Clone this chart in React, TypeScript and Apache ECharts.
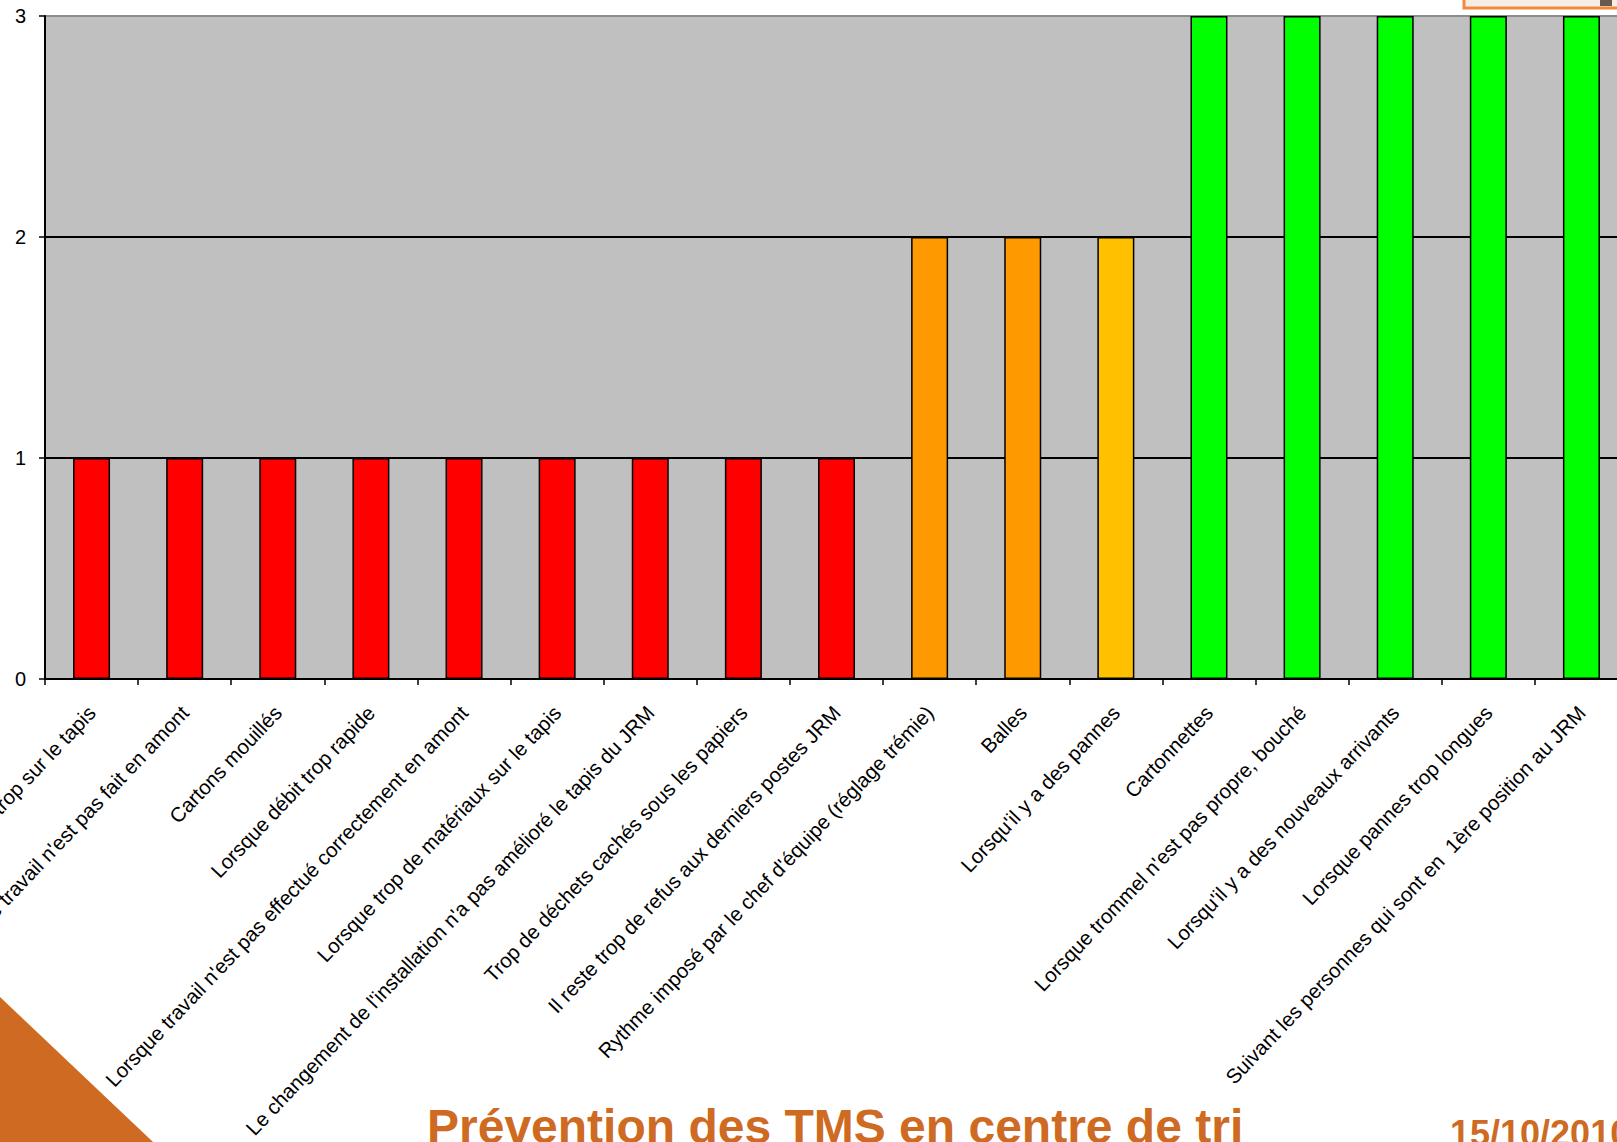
import React, { useEffect, useRef } from "react";
import * as echarts from "echarts";

const categories = [
  "Lorsqu'il y a trop sur le tapis",
  "Lorsque le travail n'est pas fait en amont",
  "Cartons mouillés",
  "Lorsque débit trop rapide",
  "Lorsque travail n'est pas effectué correctement en amont",
  "Lorsque trop de matériaux sur le tapis",
  "Le changement de l'installation n'a pas amélioré le tapis du JRM",
  "Trop de déchets cachés sous les papiers",
  "Il reste trop de refus aux derniers postes JRM",
  "Rythme imposé par le chef d'équipe (réglage trémie)",
  "Balles",
  "Lorsqu'il y a des pannes",
  "Cartonnettes",
  "Lorsque trommel n'est pas propre, bouché",
  "Lorsqu'il y a des nouveaux arrivants",
  "Lorsque pannes trop longues",
  "Suivant les personnes qui sont en  1ère position au JRM",
];

const values = [1, 1, 1, 1, 1, 1, 1, 1, 1, 2, 2, 2, 3, 3, 3, 3, 3];

const barColors = [
  "#FF0000", "#FF0000", "#FF0000", "#FF0000", "#FF0000", "#FF0000", "#FF0000", "#FF0000", "#FF0000",
  "#FF9900", "#FF9900", "#FFC000",
  "#00FF00", "#00FF00", "#00FF00", "#00FF00", "#00FF00",
];

const yTicks = [0, 1, 2, 3];

const titleText = "Prévention des TMS en centre de tri";
const dateText = "15/10/2010";

export default function App() {
  const ref = useRef<HTMLDivElement>(null);

  useEffect(() => {
    if (!ref.current) return;
    const chart = echarts.init(ref.current, undefined, { renderer: "svg" });
    const orange = "#CE6A22";
    chart.setOption({
      animation: false,
      backgroundColor: "#FFFFFF",
      textStyle: { fontFamily: "Liberation Sans, Arial, sans-serif" },
      grid: {
        left: 45,
        top: 16,
        right: 22,
        bottom: 463,
        show: true,
        backgroundColor: "#C0C0C0",
        borderWidth: 0,
        containLabel: false,
        outerBoundsMode: "none",
      },
      xAxis: {
        type: "category",
        data: categories,
        boundaryGap: true,
        axisLine: { show: true, lineStyle: { color: "#000000", width: 2 } },
        axisTick: { show: true, length: 6, alignWithLabel: false, lineStyle: { color: "#000000", width: 1.5 } },
        axisLabel: {
          interval: 0,
          rotate: 46.5,
          margin: 30,
          color: "#000000",
          fontSize: 20.5,
          fontFamily: "Liberation Sans, Arial, sans-serif",
        },
      },
      yAxis: {
        type: "value",
        min: yTicks[0],
        max: yTicks[yTicks.length - 1],
        interval: 1,
        axisLine: { show: true, lineStyle: { color: "#000000", width: 2 } },
        axisTick: { show: true, length: 6, lineStyle: { color: "#000000", width: 1.5 } },
        axisLabel: {
          margin: 19,
          color: "#000000",
          fontSize: 20,
          fontFamily: "Liberation Sans, Arial, sans-serif",
        },
        splitLine: {
          show: true,
          lineStyle: { color: ["#000000", "#000000", "#000000", "#8C8C8C"], width: 2 },
        },
      },
      series: [
        {
          type: "bar",
          barWidth: 37,
          data: values.map((v, i) => ({
            value: v,
            itemStyle: { color: barColors[i], borderColor: "#000000", borderWidth: 1.5 },
          })),
        },
      ],
      graphic: [
        {
          type: "polygon",
          shape: { points: [[0, 997], [153, 1142], [0, 1142]] },
          style: { fill: orange },
          silent: true,
        },
        {
          type: "rect",
          shape: { x: 1464, y: -20, width: 200, height: 28 },
          style: { fill: "#F6EEE6", stroke: "#F08A3C", lineWidth: 3 },
          silent: true,
        },
        {
          type: "rect",
          shape: { x: 1600, y: -5, width: 12, height: 11 },
          style: { fill: "#6A5A50" },
          silent: true,
        },
        {
          type: "text",
          x: 427,
          y: 1126,
          style: {
            text: titleText,
            fill: orange,
            fontSize: 48,
            fontWeight: "bold",
            fontFamily: "Liberation Sans, Arial, sans-serif",
            textVerticalAlign: "middle",
            verticalAlign: "middle",
          },
          silent: true,
        },
        {
          type: "text",
          x: 1450,
          y: 1133,
          style: {
            text: dateText,
            fill: orange,
            fontSize: 36,
            fontWeight: "bold",
            fontFamily: "Liberation Sans, Arial, sans-serif",
            textVerticalAlign: "middle",
            verticalAlign: "middle",
          },
          silent: true,
        },
      ],
    });
    return () => chart.dispose();
  }, []);

  return (
    <div
      ref={ref}
      style={{ position: "fixed", left: 0, top: 0, width: 1650, height: 1142 }}
    />
  );
}
